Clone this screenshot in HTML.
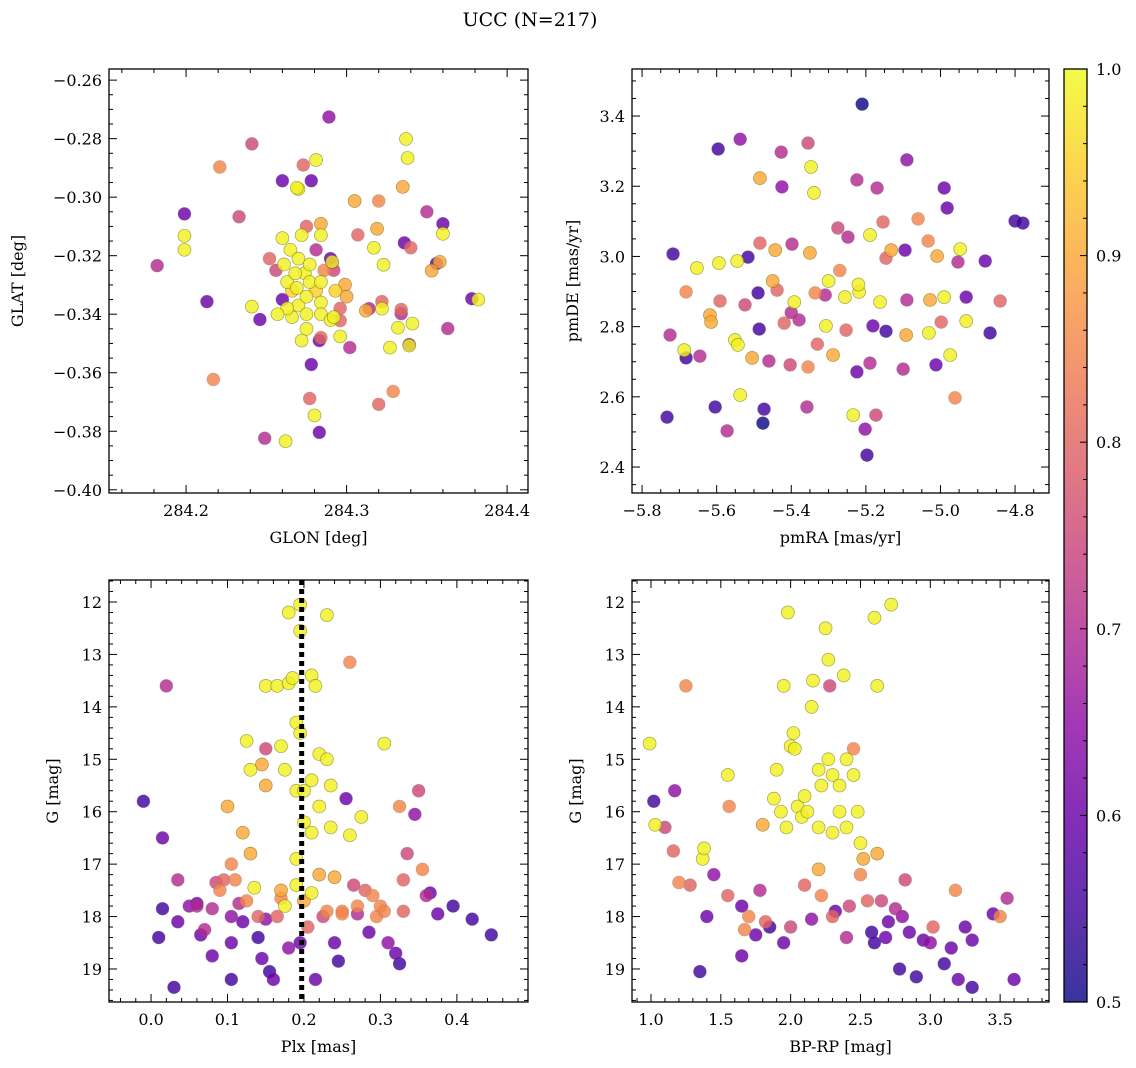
<!DOCTYPE html>
<html><head><meta charset="utf-8"><style>
html,body{margin:0;padding:0;background:#fff;}
svg{display:block;font-family:"DejaVu Serif","Liberation Serif",serif;}
</style></head><body>
<svg id="chart" width="1136" height="1068" viewBox="0 0 1136 1068" xmlns="http://www.w3.org/2000/svg">
<text x="530" y="26" font-size="19" text-anchor="middle">UCC (N=217)</text>
</svg>
<script>
// ---- Panel 1: GLON / GLAT ----
const p1Glon = [284.182,284.199,284.199,284.199,284.213,284.217,284.221,284.233,284.241,284.249,284.262,284.289,284.260,284.246,284.241,284.278,284.277,284.280,284.283,284.281,284.273,284.270,284.278,284.269,284.284,284.291,284.291,284.299,284.296,284.296,284.302,284.305,284.307,284.320,284.317,284.319,284.323,284.322,284.314,284.312,284.322,284.327,284.329,284.320,284.334,284.334,284.336,284.335,284.337,284.338,284.340,284.341,284.332,284.339,284.339,284.350,284.356,284.358,284.360,284.353,284.363,284.378,284.382,284.360,
284.26,284.265,284.27,284.274,284.277,284.281,284.284,284.27,284.263,284.266,284.275,284.284,284.29,284.293,284.286,284.29,284.281,284.272,284.284,284.275,284.256,284.26,284.266,284.275,284.284,284.292,284.296,284.3,284.252,284.261,284.275,284.269,284.284,284.292,284.283,284.272,284.263,284.257,284.277,284.268];
const p1Glat = [-0.3234,-0.3057,-0.3132,-0.3180,-0.3357,-0.3623,-0.2897,-0.3067,-0.2818,-0.3824,-0.3834,-0.2726,-0.2944,-0.3418,-0.3374,-0.3572,-0.3688,-0.3746,-0.3804,-0.2873,-0.2890,-0.2972,-0.2944,-0.2968,-0.3091,-0.3224,-0.3221,-0.3299,-0.3422,-0.3476,-0.3514,-0.3013,-0.3129,-0.3013,-0.3173,-0.3108,-0.3231,-0.3381,-0.3381,-0.3388,-0.3357,-0.3514,-0.3664,-0.3708,-0.3384,-0.3398,-0.3156,-0.2965,-0.2801,-0.2866,-0.3173,-0.3432,-0.3446,-0.3504,-0.3507,-0.3050,-0.3227,-0.3221,-0.3125,-0.3251,-0.3449,-0.3347,-0.3350,-0.3091,
-0.314,-0.318,-0.321,-0.326,-0.329,-0.332,-0.336,-0.337,-0.329,-0.332,-0.340,-0.340,-0.342,-0.332,-0.325,-0.321,-0.318,-0.313,-0.313,-0.310,-0.325,-0.335,-0.341,-0.345,-0.348,-0.341,-0.338,-0.334,-0.321,-0.323,-0.334,-0.331,-0.329,-0.325,-0.349,-0.349,-0.338,-0.340,-0.323,-0.326];
const p1Prob = [0.7,0.6,0.99,0.99,0.6,0.85,0.85,0.75,0.75,0.7,0.99,0.65,0.6,0.6,0.99,0.6,0.8,0.99,0.6,0.99,0.8,0.99,0.6,0.99,0.9,0.6,0.99,0.9,0.8,0.99,0.7,0.9,0.8,0.85,0.99,0.9,0.99,0.99,0.7,0.9,0.8,0.99,0.85,0.8,0.8,0.7,0.6,0.9,0.99,0.99,0.8,0.99,0.99,0.6,0.99,0.7,0.6,0.9,0.99,0.9,0.7,0.6,0.99,0.6,
0.99,0.99,0.99,0.99,0.99,0.95,0.99,0.99,0.99,0.95,0.99,0.99,0.99,0.95,0.85,0.6,0.7,0.99,0.99,0.8,0.75,0.6,0.99,0.99,0.8,0.99,0.8,0.9,0.8,0.99,0.99,0.99,0.99,0.75,0.6,0.99,0.99,0.99,0.99,0.99];
// ---- Panel 2: pmRA / pmDE ----
const p2PmRA = [-5.596,-5.537,-5.355,-5.427,-5.210,-5.484,-5.425,-5.347,-5.339,-5.224,-5.170,-5.090,-4.990,-4.982,-4.800,-5.060,-5.009,-5.717,-5.653,-5.594,-5.545,-5.516,-5.484,-5.443,-5.398,-5.350,-5.275,-5.248,-5.189,-5.146,-5.132,-5.154,-5.095,-5.033,-4.947,-4.953,-4.880,-5.682,-5.591,-5.618,-5.524,-5.489,-5.438,-5.392,-5.336,-5.309,-5.256,-5.218,-5.162,-5.090,-5.028,-4.990,-4.931,-4.840,-5.725,-5.687,-5.615,-5.551,-5.486,-5.419,-5.379,-5.307,-5.253,-5.181,-5.146,-5.092,-5.031,-4.998,-4.931,-5.682,-5.645,-5.543,-5.505,-5.460,-5.403,-5.355,-5.288,-5.224,-5.189,-5.100,-5.012,-4.974,-5.733,-5.604,-5.572,-5.537,-5.473,-5.476,-5.358,-5.234,-5.173,-5.202,-5.197,-4.961,-4.779,-4.867,-5.30,-5.27,-5.40,-5.45,-5.22,-5.33];
const p2PmDE = [3.306,3.334,3.323,3.297,3.434,3.223,3.198,3.255,3.181,3.218,3.195,3.275,3.195,3.138,3.101,3.107,3.001,3.007,2.967,2.981,2.987,2.998,3.038,3.018,3.035,3.010,3.081,3.055,3.061,2.995,3.018,3.098,3.018,3.044,3.021,2.984,2.987,2.899,2.873,2.833,2.862,2.896,2.904,2.870,2.896,2.890,2.884,2.899,2.870,2.876,2.876,2.884,2.884,2.873,2.776,2.733,2.813,2.762,2.793,2.810,2.819,2.802,2.790,2.802,2.787,2.776,2.782,2.813,2.816,2.711,2.716,2.748,2.711,2.702,2.691,2.685,2.719,2.671,2.696,2.679,2.691,2.719,2.542,2.571,2.503,2.605,2.565,2.525,2.571,2.548,2.548,2.508,2.434,2.597,3.095,2.782,2.93,2.96,2.84,2.93,2.92,2.75];
const p2Prob = [0.55,0.65,0.75,0.7,0.5,0.9,0.65,0.99,0.99,0.7,0.7,0.65,0.6,0.6,0.55,0.85,0.9,0.55,0.99,0.99,0.99,0.55,0.8,0.9,0.7,0.9,0.75,0.7,0.99,0.8,0.9,0.8,0.6,0.85,0.99,0.7,0.6,0.85,0.8,0.9,0.75,0.55,0.8,0.99,0.85,0.7,0.99,0.99,0.99,0.7,0.9,0.99,0.6,0.8,0.7,0.99,0.9,0.99,0.55,0.8,0.7,0.99,0.8,0.6,0.55,0.9,0.99,0.8,0.99,0.55,0.7,0.99,0.9,0.7,0.75,0.85,0.9,0.6,0.7,0.7,0.6,0.99,0.55,0.55,0.7,0.99,0.55,0.5,0.7,0.99,0.75,0.65,0.55,0.85,0.55,0.55,0.99,0.85,0.7,0.9,0.99,0.8];
// ---- Panel 3: Plx / G ----
const p3Plx = [-0.01,0.015,0.02,0.01,0.03,0.035,0.035,0.015,0.05,0.06,0.065,0.07,0.08,0.085,0.09,0.095,0.08,0.1,0.105,0.11,0.115,0.105,0.105,0.105,0.12,0.125,0.12,0.125,0.13,0.13,0.135,0.14,0.145,0.14,0.145,0.15,0.15,0.15,0.155,0.16,0.165,0.165,0.17,0.17,0.175,0.175,0.18,0.18,0.18,0.185,0.19,0.19,0.19,0.19,0.195,0.195,0.195,0.195,0.2,0.2,0.2,0.205,0.21,0.21,0.21,0.21,0.215,0.215,0.22,0.22,0.22,0.225,0.23,0.23,0.235,0.235,0.24,0.24,0.245,0.25,0.255,0.26,0.26,0.265,0.27,0.275,0.28,0.285,0.29,0.295,0.3,0.305,0.305,0.31,0.32,0.325,0.325,0.33,0.33,0.335,0.345,0.35,0.355,0.36,0.365,0.375,0.395,0.42,0.445,0.06,0.17,0.25,0.27,0.15,0.23];
const p3G = [15.8,16.5,13.6,18.4,19.35,18.1,17.3,17.85,17.8,17.75,18.35,18.25,18.75,17.35,17.5,17.3,17.85,15.9,17.0,17.3,17.75,18.0,18.5,19.2,18.1,17.7,16.4,14.65,15.2,16.8,17.45,18.4,18.8,18.0,15.1,14.8,15.5,13.6,19.05,19.2,13.6,18.0,17.5,14.75,15.2,17.8,18.6,13.55,12.2,13.45,14.3,15.6,16.9,17.4,18.5,12.05,12.55,14.5,15.6,16.2,17.7,18.2,13.4,15.4,16.4,17.55,13.6,19.2,14.9,15.9,17.2,18.0,12.25,15.0,15.5,16.3,17.25,18.5,18.85,17.9,15.75,13.15,16.45,17.4,17.8,16.1,17.5,18.3,17.6,18.0,17.8,14.7,17.9,18.5,18.7,18.9,15.9,17.3,17.9,16.8,16.05,15.6,17.1,17.6,17.55,17.95,17.8,18.05,18.35,17.8,17.65,17.95,17.95,18.05,17.9];
const p3Prob = [0.55,0.6,0.7,0.55,0.55,0.6,0.7,0.55,0.65,0.6,0.6,0.7,0.6,0.75,0.85,0.8,0.7,0.9,0.85,0.85,0.7,0.65,0.6,0.55,0.6,0.85,0.9,0.99,0.99,0.9,0.99,0.55,0.6,0.8,0.9,0.75,0.9,0.99,0.55,0.6,0.99,0.8,0.9,0.99,0.99,0.99,0.65,0.99,0.99,0.99,0.99,0.99,0.99,0.99,0.6,0.99,0.99,0.99,0.99,0.99,0.9,0.8,0.99,0.99,0.99,0.99,0.99,0.6,0.99,0.99,0.9,0.75,0.99,0.99,0.99,0.99,0.9,0.6,0.55,0.85,0.6,0.85,0.99,0.75,0.85,0.99,0.8,0.6,0.85,0.85,0.85,0.99,0.85,0.65,0.6,0.55,0.85,0.8,0.8,0.75,0.65,0.75,0.85,0.7,0.6,0.6,0.55,0.55,0.55,0.7,0.85,0.85,0.7,0.65,0.85];
// ---- Panel 4: BP-RP / G ----
const p4Color = [0.99,1.02,1.03,1.1,1.17,1.16,1.2,1.25,1.28,1.35,1.37,1.38,1.4,1.45,1.55,1.56,1.55,1.65,1.65,1.67,1.7,1.75,1.78,1.8,1.82,1.85,1.88,1.9,1.93,1.95,1.97,1.98,1.95,2.0,2.02,2.03,2.05,2.08,2.1,2.12,2.15,2.16,2.2,2.2,2.2,2.22,2.22,2.25,2.27,2.28,2.27,2.3,2.3,2.32,2.35,2.35,2.38,2.4,2.4,2.42,2.45,2.45,2.48,2.5,2.52,2.55,2.58,2.6,2.62,2.62,2.65,2.68,2.7,2.72,2.75,2.78,2.8,2.82,2.85,2.9,2.95,3.0,3.02,3.1,3.15,3.18,3.2,3.25,3.3,3.3,3.45,3.5,3.55,3.6,2.3,2.1,2.0,2.4,2.5,2.15,2.6];
const p4G = [14.7,15.8,16.25,16.3,15.6,16.75,17.35,13.6,17.4,19.05,16.9,16.7,18.0,17.2,15.3,15.9,17.6,17.8,18.75,18.25,18.0,18.35,17.5,16.25,18.1,18.2,15.75,15.2,16.0,13.6,16.3,12.2,18.5,14.75,14.5,14.8,15.9,16.1,15.7,16.0,14.0,13.5,15.2,16.3,17.1,15.5,17.6,12.5,13.1,13.6,15.0,15.3,16.4,17.9,15.5,16.0,13.4,15.0,16.3,17.8,14.8,15.3,16.0,16.6,16.9,17.7,18.3,12.3,13.6,16.8,17.7,18.4,18.1,12.05,17.85,19.0,18.0,17.3,18.3,19.15,18.45,18.5,18.2,18.9,18.6,17.5,19.2,18.2,19.35,18.45,17.95,18.0,17.65,19.2,18.0,17.4,18.2,18.4,17.2,18.05,18.5];
const p4Prob = [0.99,0.55,0.99,0.75,0.65,0.8,0.85,0.85,0.8,0.55,0.99,0.99,0.6,0.65,0.99,0.85,0.8,0.6,0.6,0.85,0.85,0.6,0.7,0.9,0.8,0.55,0.99,0.99,0.99,0.99,0.99,0.99,0.6,0.99,0.99,0.99,0.99,0.99,0.99,0.99,0.99,0.99,0.99,0.99,0.9,0.99,0.85,0.99,0.99,0.75,0.99,0.99,0.99,0.6,0.99,0.99,0.99,0.99,0.99,0.75,0.85,0.99,0.99,0.99,0.9,0.8,0.55,0.99,0.99,0.9,0.75,0.6,0.6,0.99,0.7,0.55,0.65,0.75,0.6,0.55,0.6,0.65,0.8,0.55,0.6,0.85,0.6,0.6,0.55,0.6,0.6,0.85,0.7,0.6,0.8,0.8,0.75,0.7,0.85,0.65,0.55];
// colorbar ticks
const cbTicks = [0.5,0.6,0.7,0.8,0.9,1.0];

const NS = "http://www.w3.org/2000/svg";
const svg = document.getElementById('chart');
function mk(tag, attrs, parent){const e=document.createElementNS(NS,tag);for(const k in attrs)e.setAttribute(k,attrs[k]);(parent||svg).appendChild(e);return e;}
const stops = ["#0d0887","#41049d","#6a00a8","#8f0da4","#b12a90","#cc4778","#e16462","#f2844b","#fca636","#fcce25","#f0f921"];
function hex(h){return [parseInt(h.slice(1,3),16),parseInt(h.slice(3,5),16),parseInt(h.slice(5,7),16)];}
function plasma(t){t=Math.max(0,Math.min(1,t));const f=t*10,i=Math.min(9,Math.floor(f)),u=f-i;const a=hex(stops[i]),b=hex(stops[i+1]);
 const c=a.map((v,k)=>Math.round(v+(b[k]-v)*u));return `rgb(${c[0]},${c[1]},${c[2]})`;}
function probColor(p){return plasma((p-0.5)/0.5);}
function fmt(v,d){let s=v.toFixed(d);if(s.startsWith('-'))s='\u2212'+s.slice(1);return s;}

function panel(cfg){
 const {name,x0,x1,y0,y1,xmin,xmax,ymin,ymax,xs,ys,ps,xMaj,xMin,yMaj,yMin,xd,yd,xlabel,ylabel,invertY}=cfg;
 const g=mk('g',{});
 
 
 const sx=v=>x0+(v-xmin)/(xmax-xmin)*(x1-x0);
 const sy=v=>invertY? y0+(v-ymin)/(ymax-ymin)*(y1-y0) : y1-(v-ymin)/(ymax-ymin)*(y1-y0);
 const pg=mk('g',{},g);
 
 
 if(cfg.vline!==undefined){
  const l=mk('line',{x1:sx(cfg.vline),x2:sx(cfg.vline),y1:y0,y2:y1,stroke:'#000','stroke-width':5,'stroke-dasharray':'5,4'},g);
  
  
 }
 const order=ps.map((p,i)=>i).sort((a,b)=>ps[a]-ps[b]);
 order.forEach(i=>{
  const c=mk('circle',{cx:sx(xs[i]),cy:sy(ys[i]),r:6.5,fill:probColor(ps[i]),'fill-opacity':0.82,stroke:ps[i]>0.85?'#6b6b10':'#777','stroke-opacity':ps[i]>0.85?0.6:0.3,'stroke-width':0.7},pg);
  
  
 });
 const fr=mk('rect',{x:x0,y:y0,width:x1-x0,height:y1-y0,fill:'none',stroke:'#000','stroke-width':1.3},g);
 
 
 const tk=mk('g',{stroke:'#000','stroke-width':1},g);
 const eps=1e-9;
 for(let v=Math.ceil((xmin)/xMin-eps)*xMin; v<=xmax+eps; v+=xMin){
  const X=sx(v); const major=Math.abs(v/xMaj-Math.round(v/xMaj))<1e-6; const L=major?8:4;
  mk('line',{x1:X,x2:X,y1:y1,y2:y1-L},tk); mk('line',{x1:X,x2:X,y1:y0,y2:y0+L},tk);
 }
 for(let v=Math.ceil((ymin)/yMin-eps)*yMin; v<=ymax+eps; v+=yMin){
  const Y=sy(v); const major=Math.abs(v/yMaj-Math.round(v/yMaj))<1e-6; const L=major?8:4;
  mk('line',{x1:x0,x2:x0+L,y1:Y,y2:Y},tk); mk('line',{x1:x1,x2:x1-L,y1:Y,y2:Y},tk);
 }
 for(let k=Math.ceil(xmin/xMaj-eps);k*xMaj<=xmax+eps;k++){
  const v=k*xMaj; const t=mk('text',{x:sx(v),y:y1+23,'font-size':16,'text-anchor':'middle'},g); t.textContent=fmt(v,xd);
  
  
 }
 for(let k=Math.ceil(ymin/yMaj-eps);k*yMaj<=ymax+eps;k++){
  const v=k*yMaj; const t=mk('text',{x:x0-7,y:sy(v)+6,'font-size':16,'text-anchor':'end'},g); t.textContent=fmt(v,yd);
  
  
 }
 const xl=mk('text',{x:(x0+x1)/2,y:y1+50,'font-size':16,'text-anchor':'middle'},g); xl.textContent=xlabel;
 
 
 const ylx=cfg.ylx;
 const yl=mk('text',{x:ylx,y:(y0+y1)/2,'font-size':16,'text-anchor':'middle',transform:`rotate(-90 ${ylx} ${(y0+y1)/2})`},g); yl.textContent=ylabel;
 
 
}

panel({name:'glon-glat-panel',x0:109,x1:528,y0:69,y1:493,xmin:284.152,xmax:284.413,ymin:-0.4011,ymax:-0.2562,xs:p1Glon,ys:p1Glat,ps:p1Prob,xMaj:0.1,xMin:0.02,yMaj:0.02,yMin:0.005,xd:1,yd:2,xlabel:'GLON [deg]',ylabel:'GLAT [deg]',ylx:23});
panel({name:'pm-panel',x0:632,x1:1049,y0:69,y1:493,xmin:-5.827,xmax:-4.709,ymin:2.326,ymax:3.534,xs:p2PmRA,ys:p2PmDE,ps:p2Prob,xMaj:0.2,xMin:0.05,yMaj:0.2,yMin:0.05,xd:1,yd:1,xlabel:'pmRA [mas/yr]',ylabel:'pmDE [mas/yr]',ylx:578});
panel({name:'plx-g-panel',x0:109,x1:528,y0:580,y1:1002,xmin:-0.055,xmax:0.493,ymin:11.58,ymax:19.63,xs:p3Plx,ys:p3G,ps:p3Prob,xMaj:0.1,xMin:0.02,yMaj:1,yMin:0.2,xd:1,yd:0,xlabel:'Plx [mas]',ylabel:'G [mag]',ylx:58,invertY:true,vline:0.197});
panel({name:'cmd-panel',x0:632,x1:1049,y0:580,y1:1002,xmin:0.864,xmax:3.85,ymin:11.58,ymax:19.63,xs:p4Color,ys:p4G,ps:p4Prob,xMaj:0.5,xMin:0.1,yMaj:1,yMin:0.2,xd:1,yd:0,xlabel:'BP-RP [mag]',ylabel:'G [mag]',ylx:581,invertY:true});

// colorbar
(function(){
 const cx0=1064,cx1=1087,cy0=69,cy1=1002;
 const defs=mk('defs',{});const lg=mk('linearGradient',{id:'cbg',x1:0,y1:1,x2:0,y2:0},defs);
 for(let i=0;i<=20;i++){mk('stop',{offset:i/20,'stop-color':plasma(i/20),'stop-opacity':0.82},lg);}
 const r=mk('rect',{x:cx0,y:cy0,width:cx1-cx0,height:cy1-cy0,fill:'url(#cbg)',stroke:'#000','stroke-width':1.3});
 
 
 const sy=v=>cy1-(v-0.5)/0.5*(cy1-cy0);
 for(let v=0.5;v<=1.0001;v+=0.02){const major=Math.abs(v*10-Math.round(v*10))<1e-6;mk('line',{x1:cx1,x2:cx1-(major?7:4),y1:sy(v),y2:sy(v),stroke:'#000','stroke-width':1});}
 cbTicks.forEach(v=>{const t=mk('text',{x:cx1+9,y:sy(v)+6,'font-size':16});t.textContent=v.toFixed(1);
  
  });
})();
</script>
</body></html>
